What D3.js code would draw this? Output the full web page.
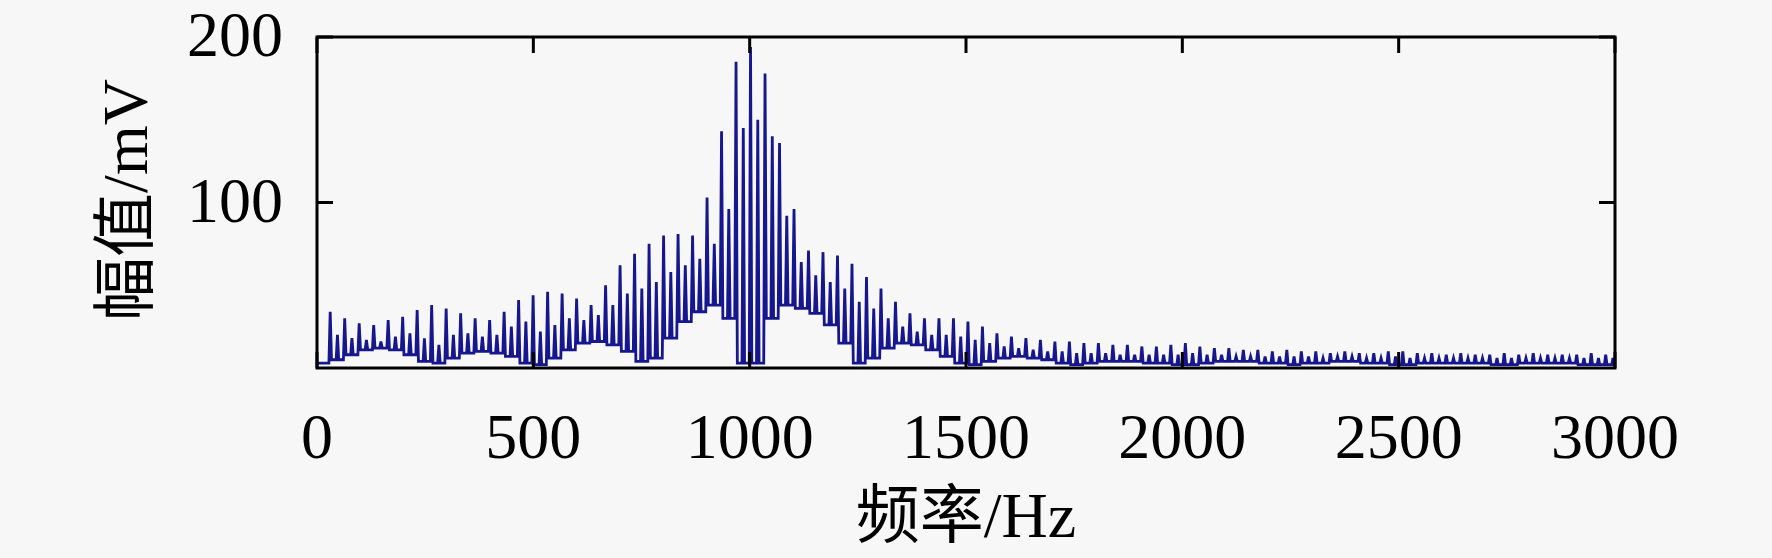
<!DOCTYPE html>
<html>
<head>
<meta charset="utf-8">
<script src="https://cdn.jsdelivr.net/npm/d3@7"></script>
<style>
  html, body { margin: 0; padding: 0; background: #f7f7f7; }
  svg { display: block; }
  text { font-family: "Liberation Serif", "Noto Sans CJK SC", serif; fill: #000; }
</style>
</head>
<body>
<div id="chart"></div>
<script>
// comb spectrum: one main spike per cycle, a smaller spike half way, and the floor level
let firstPeakHz = 30.5;
let combStepHz = 33.5;

let mainMv = [34, 30, 27, 26, 29, 31, 35, 38, 36, 33,
              30, 29, 34, 41, 44, 46, 45, 42, 38, 50,
              62, 69, 75, 80, 81, 80, 103, 143, 185, 194,
              178, 136, 96, 71, 70, 68, 63, 55, 48, 40,
              33, 30, 30, 30, 28, 25, 21, 19, 18, 17,
              16, 16, 15, 15, 14, 14, 13, 13, 14, 15,
              13, 12, 12, 11, 11, 10, 11, 10, 10, 9,
              10, 9, 9, 10, 10, 9, 9, 8, 9, 8,
              8, 9, 8, 9, 8, 8, 8, 9, 8];

let subMv = [20, 18, 17, 16, 19, 21, 18, 14, 20, 21,
             19, 20, 25, 28, 22, 26, 30, 29, 32, 38,
             45, 48, 52, 58, 62, 66, 75, 96, 145, 150,
             140, 92, 64, 56, 52, 48, 40, 36, 30, 25,
             22, 20, 20, 19, 17, 15, 13, 12, 11, 10,
             10, 9, 9, 9, 8, 8, 8, 8, 8, 9,
             8, 8, 7, 7, 7, 7, 7, 7, 6, 7,
             7, 6, 6, 7, 6, 6, 6, 6, 6, 6,
             6, 6, 6, 6, 6, 6, 6, 6, 6];

let lowMv = [5, 8, 11, 12, 11, 8, 4, 3, 6, 9,
             10, 9, 7, 3, 2, 6, 11, 15, 16, 14,
             10, 4, 6, 18, 28, 34, 38, 30, 3, 3,
             30, 38, 36, 33, 26, 15, 3, 6, 12, 15,
             14, 11, 7, 3, 2, 4, 6, 7, 6, 5,
             3, 2, 3, 4, 4, 4, 3, 3, 2, 2,
             3, 4, 4, 4, 3, 3, 2, 3, 3, 4,
             4, 3, 3, 2, 2, 3, 3, 3, 3, 3,
             2, 2, 3, 3, 3, 3, 2, 2, 2];

let xTicks = [0, 500, 1000, 1500, 2000, 2500, 3000];
let yTicks = [100, 200];
let xTitle = "频率/Hz";
let yTitle = "幅值/mV";

const W = 1772, H = 558;
const box = {left: 317, right: 1615, top: 37, bottom: 368};

const svg = d3.select("#chart").append("svg")
  .attr("width", W).attr("height", H);

svg.append("rect").attr("width", W).attr("height", H).attr("fill", "#f7f7f7");

const x = d3.scaleLinear().domain([0, 3000]).range([box.left, box.right]);
const y = d3.scaleLinear().domain([0, 200]).range([box.bottom, box.top]);

// build the line: floor -> main spike -> floor -> small spike -> floor
let pts = [[0, 3]];
let prevLow = 3;
mainMv.forEach((m, i) => {
  let f = firstPeakHz + i * combStepHz;
  pts.push([f - 3, prevLow]);
  pts.push([f, m]);
  pts.push([f + 3, lowMv[i]]);
  pts.push([f + 13.75, lowMv[i]]);
  pts.push([f + 16.75, subMv[i]]);
  pts.push([f + 19.75, lowMv[i]]);
  prevLow = lowMv[i];
});
pts.push([3000, prevLow]);

svg.append("clipPath").attr("id", "plotclip")
  .append("rect")
  .attr("x", box.left).attr("y", box.top)
  .attr("width", box.right - box.left).attr("height", box.bottom - box.top);

svg.append("path")
  .datum(pts)
  .attr("clip-path", "url(#plotclip)")
  .attr("fill", "none")
  .attr("stroke", "#16168e")
  .attr("stroke-width", 2.8)
  .attr("stroke-linejoin", "miter")
  .attr("d", d3.line().x(d => x(d[0])).y(d => y(d[1])));

// ticks on all four sides, pointing inward
const tickLen = 16;
const ticks = svg.append("g").attr("stroke", "#000").attr("stroke-width", 3);
xTicks.forEach(t => {
  ticks.append("line").attr("x1", x(t)).attr("x2", x(t))
    .attr("y1", box.bottom).attr("y2", box.bottom - tickLen);
  ticks.append("line").attr("x1", x(t)).attr("x2", x(t))
    .attr("y1", box.top).attr("y2", box.top + tickLen);
});
yTicks.forEach(t => {
  ticks.append("line").attr("y1", y(t)).attr("y2", y(t))
    .attr("x1", box.left).attr("x2", box.left + tickLen);
  ticks.append("line").attr("y1", y(t)).attr("y2", y(t))
    .attr("x1", box.right).attr("x2", box.right - tickLen);
});

// frame
svg.append("rect")
  .attr("x", box.left).attr("y", box.top)
  .attr("width", box.right - box.left).attr("height", box.bottom - box.top)
  .attr("fill", "none").attr("stroke", "#000").attr("stroke-width", 3);

// tick labels
svg.append("g").selectAll("text").data(xTicks).join("text")
  .attr("x", d => x(d)).attr("y", 458)
  .attr("text-anchor", "middle")
  .attr("font-size", 64)
  .text(d => d);

svg.append("g").selectAll("text").data(yTicks).join("text")
  .attr("x", 283).attr("y", d => y(d) + 19)
  .attr("text-anchor", "end")
  .attr("font-size", 64)
  .text(d => d);

// axis titles
svg.append("text")
  .attr("x", 966).attr("y", 537)
  .attr("text-anchor", "middle")
  .attr("font-size", 64)
  .text(xTitle);

svg.append("text")
  .attr("transform", "translate(147,200) rotate(-90)")
  .attr("text-anchor", "middle")
  .attr("font-size", 64)
  .text(yTitle);
</script>
</body>
</html>
